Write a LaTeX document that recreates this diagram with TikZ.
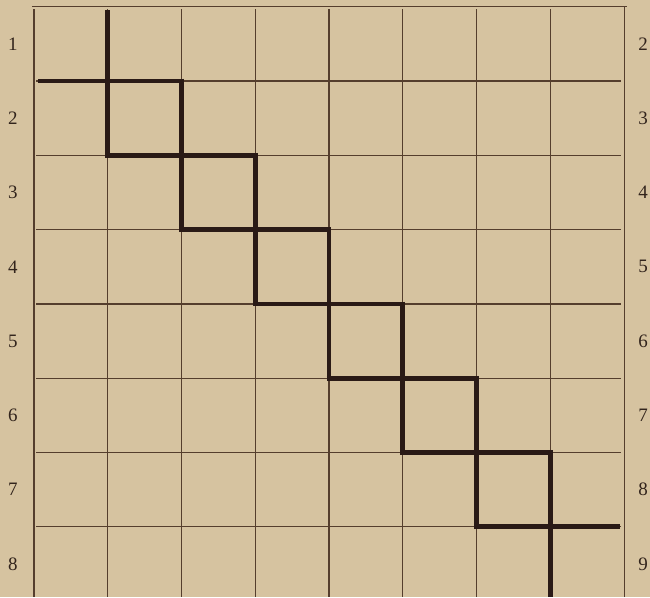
\documentclass[tikz,border=0pt]{standalone}
\usepackage{fontspec}
\setmainfont{Liberation Serif}
\begin{document}
\begin{tikzpicture}[x=1pt,y=-1pt,
  gridline/.style={draw=ink,line width=1.3pt},
  pathline/.style={draw=thickink,line width=4.8pt},
  lbl/.style={font=\fontsize{19}{20}\selectfont,text=labelink,inner sep=0pt}]
\definecolor{paper}{RGB}{214,195,160}
\definecolor{ink}{RGB}{85,62,45}
\definecolor{thickink}{RGB}{42,26,22}
\definecolor{labelink}{RGB}{50,36,28}
\fill[paper] (0,0) rectangle (650,597);
\useasboundingbox (0,0) rectangle (650,597);
% borders
\draw[gridline] (32,6.5) -- (627,6.5);
\draw[gridline] (34,9) -- (34,597);
\draw[gridline] (624.5,6) -- (624.5,597);
% internal verticals
\foreach \k in {1,...,7} {
  \draw[gridline] ({34+73.75*\k},9) -- ({34+73.75*\k},597);
}
% internal horizontals
\foreach \k in {1,...,7} {
  \draw[gridline] (36,{6.7+74.3*\k}) -- (621,{6.7+74.3*\k});
}
% thick staircase
\draw[pathline] (107.75,10) -- (107.75,155.3);
\draw[pathline] (38,81) -- (183.5,81);
\foreach \k in {1,...,5} {
  \draw[pathline] ({107.75+73.75*\k},{6.7+74.3*\k-2.4}) -- ({107.75+73.75*\k},{6.7+74.3*(\k+2)+2.4});
  \draw[pathline] ({107.75+73.75*(\k-1)-2.4},{81+74.3*\k}) -- ({107.75+73.75*(\k+1)+2.4},{81+74.3*\k});
}
\draw[pathline] (550.25,450.1) -- (550.25,597);
\draw[pathline] (474.1,526.8) -- (620,526.8);
% labels
\foreach \i in {1,...,8} {
  \pgfmathtruncatemacro{\j}{\i+1}
  \node[lbl] (L\i) at (13,{6.7+74.3*(\i-0.5)}) {\i};
  \node[lbl] (R\i) at (643,{6.7+74.3*(\i-0.5)}) {\j};
}
\end{tikzpicture}
\end{document}
